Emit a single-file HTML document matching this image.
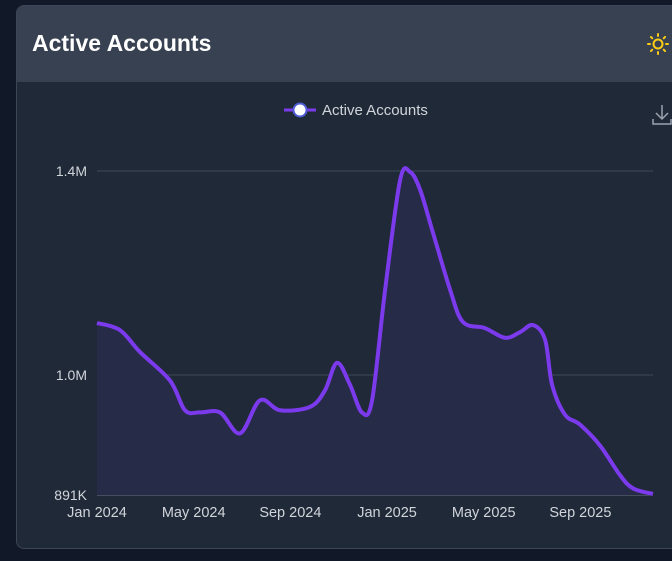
<!DOCTYPE html>
<html><head><meta charset="utf-8"><style>
body{margin:0;width:672px;height:561px;background:#111827;overflow:hidden;font-family:"Liberation Sans",sans-serif;position:relative}
#card{position:absolute;left:16px;top:5px;width:670px;height:542px;background:#1f2937;border:1px solid #3b4656;border-radius:8px;overflow:hidden}
#hdr{position:absolute;left:0;top:0;right:0;height:76px;background:#374151}
#title{position:absolute;left:15px;top:24px;color:#fff;font-weight:bold;font-size:23px}
</style></head><body>
<div id="card">
<div id="hdr">
<div id="title">Active Accounts</div>
<svg style="position:absolute;left:629px;top:26px" width="24" height="24">
<g stroke="#facc15" stroke-width="2" fill="none" stroke-linecap="round"><circle cx="12" cy="12" r="4.5"/>
<path d="M12 2v2M12 20v2M2 12h2M20 12h2M4.9 4.9l1.4 1.4M17.7 17.7l1.4 1.4M4.9 19.1l1.4-1.4M17.7 6.3l1.4-1.4"/></g></svg>
</div>
</div>
<svg id="chart" width="672" height="561" style="position:absolute;left:0;top:0"></svg>
<script>
const months=[0,0.95,1.78,3.02,3.64,4.26,5.09,5.92,6.74,7.57,8.81,9.43,9.93,10.47,10.96,11.38,11.92,12.54,12.96,13.37,13.87,14.61,15.14,16.05,16.88,17.5,18.04,18.54,18.83,19.36,19.98,20.81,21.64,22.18,23];
const values=[1.102,1.088,1.045,0.995,0.968,0.966,0.966,0.947,0.977,0.968,0.971,0.986,1.024,0.991,0.966,0.977,1.167,1.382,1.398,1.363,1.284,1.167,1.104,1.092,1.073,1.084,1.098,1.069,0.991,0.964,0.955,0.936,0.909,0.897,0.892];
const yTicks=[1.4,1.0,0.891];
const yTickLabels=["1.4M","1.0M","891K"];
const xTickMonths=[0,4,8,12,16,20];
const xTickLabels=["Jan 2024","May 2024","Sep 2024","Jan 2025","May 2025","Sep 2025"];
const svg=document.getElementById('chart');const NS='http://www.w3.org/2000/svg';
function X(m){return 97+m*24.17;}
function Y(v){return v>=1.0?375-(v-1.0)*510:375+(1.0-v)/0.109*120;}
function mk(t,a,p){const e=document.createElementNS(NS,t);for(const k in a)e.setAttribute(k,a[k]);(p||svg).appendChild(e);return e;}
yTicks.forEach((v,i)=>{
 const l=mk('line',{x1:97,x2:653,y1:Y(v),y2:Y(v),stroke:i==2?'#6b7280':'#3f4a5a','stroke-width':1});
 
 
 const t=mk('text',{x:87,y:Y(v)+5,'text-anchor':'end',fill:'#d1d5db','font-size':14});t.textContent=yTickLabels[i];
 
 
});
xTickMonths.forEach((m,i)=>{
 const t=mk('text',{x:X(m),y:517,'text-anchor':'middle',fill:'#d1d5db','font-size':14.5});t.textContent=xTickLabels[i];
 
 
});
const P=months.map((m,i)=>[X(m),Y(values[i])]);
let d='M'+P[0][0]+','+P[0][1];
for(let i=0;i<P.length-1;i++){const p0=P[Math.max(0,i-1)],p1=P[i],p2=P[i+1],p3=P[Math.min(P.length-1,i+2)];
 d+=' C'+(p1[0]+(p2[0]-p0[0])/6)+','+(p1[1]+(p2[1]-p0[1])/6)+' '+(p2[0]-(p3[0]-p1[0])/6)+','+(p2[1]-(p3[1]-p1[1])/6)+' '+p2[0]+','+p2[1];}
const area=mk('path',{d:d+' L'+P[P.length-1][0]+','+Y(0.891)+' L'+P[0][0]+','+Y(0.891)+'Z',fill:'#262b48'});


const line=mk('path',{d:d,fill:'none',stroke:'#7c3aed','stroke-width':4,'stroke-linejoin':'round'});


const lg=mk('g',{});


mk('line',{x1:284,x2:316,y1:110,y2:110,stroke:'#7c3aed','stroke-width':3},lg);
mk('circle',{cx:300,cy:110,r:6.5,fill:'#fff',stroke:'#4f5bd5','stroke-width':2},lg);
const lt=mk('text',{x:322,y:115,fill:'#d1d5db','font-size':15},lg);lt.textContent='Active Accounts';
const dl=mk('g',{stroke:'#9ca3af','stroke-width':1.5,fill:'none'});


mk('path',{d:'M662 105v14M656 113l6 6 6-6M653 119v5h18v-5'},dl);
</script>
</body></html>
